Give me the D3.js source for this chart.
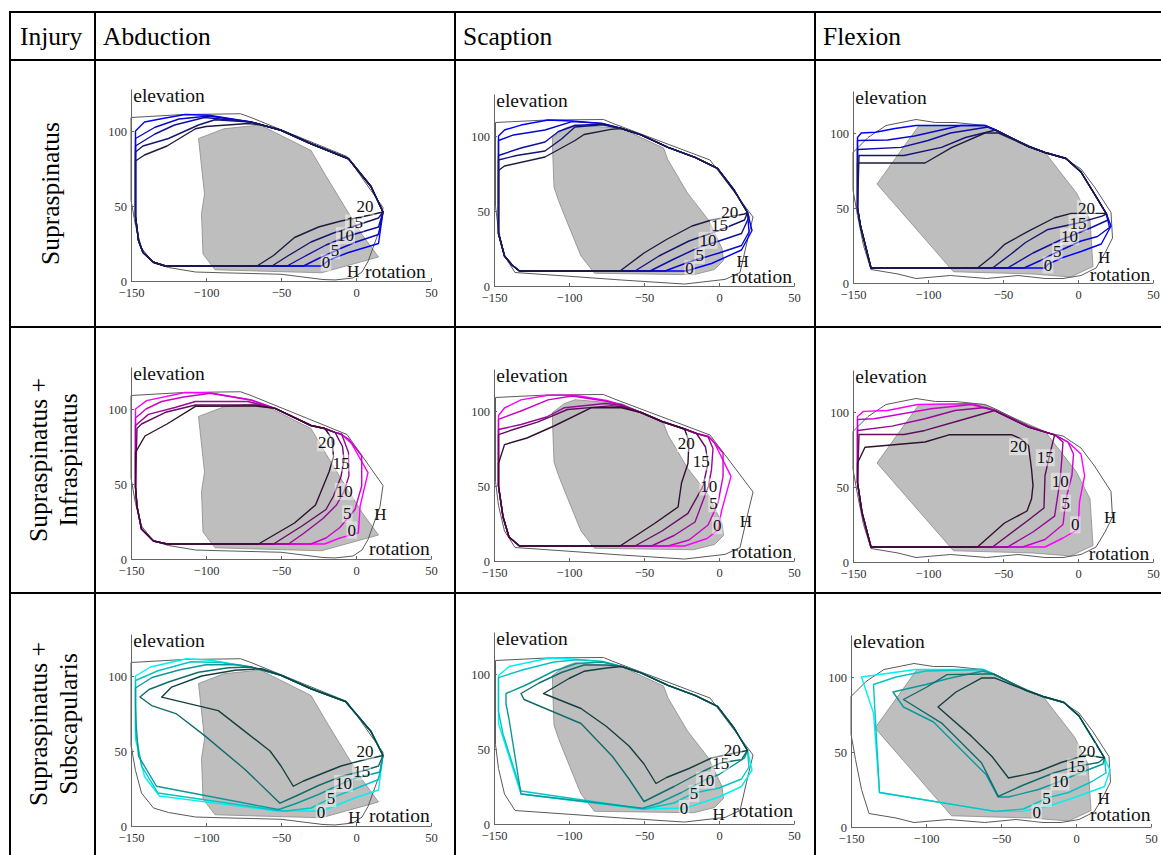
<!DOCTYPE html>
<html>
<head>
<meta charset="utf-8">
<script src="https://cdn.jsdelivr.net/npm/d3@7"></script>
<style>
  body { margin: 0; background: #fff; }
  svg { display: block; }
  svg text { font-family: "Liberation Serif", "Times New Roman", serif; }
</style>
</head>
<body>
<svg id="chart" width="1161" height="855"></svg>
<script>
// ---- table headings ----
const movements = ["Abduction", "Scaption", "Flexion"];
const injuries = [["Supraspinatus"], ["Supraspinatus +", "Infraspinatus"], ["Supraspinatus +", "Subscapularis"]];
const levels = ["0", "5", "10", "15", "20"];
const xTicks = [-150, -100, -50, 0, 50];
const yTicks = [0, 50, 100];

// ---- healthy range of motion (H) per movement ----
const healthyAbd = [[-150,109],[-115,111],[-77,111.5],[-70,109],[-6,83],[18,49],[16,35],[8,13],[4,6],[-2,2],[-14,0.7],[-22,1],[-50,4.5],[-90,5.5],[-107,6],[-125,9],[-135,12],[-143,22],[-147,37],[-150,54]];
const healthyScap = [[-149,109],[-114,110.7],[-77,111],[-71,108.5],[-6,84],[22.7,46],[20,35],[17,22],[14,9],[4,4.4],[-23,1.3],[-65,4],[-100,6.5],[-136,9],[-143,20],[-147,37],[-149,53]];
const healthyFlex = [[-150,87],[-140,97],[-128,105],[-108,109],[-95,107],[-82,107],[-62,105],[-55,102],[-33,91],[-20,86],[-10,84],[2,76],[11,64],[22,47],[23,30],[18,20],[12,10],[2,5],[-10,3],[-22,3],[-40,5],[-61,3],[-85,5],[-108,3],[-120,6],[-138,9],[-143,25],[-147,45],[-150,62]];

// ---- task region per movement ----
const taskAbd = [[-105,95],[-88,101.5],[-64,104],[-30,87],[-20,70],[-6,47],[4,31],[15,16],[-23,5.5],[-60,6.5],[-94,7.5],[-102,18],[-103,45],[-101,58]];
const taskScap = [[-111,99],[-103,105],[-96,107.5],[-65,105],[-37,92],[-34,84],[-21,62],[-7,44],[2,25],[3,17],[-3,11],[-17,7.5],[-50,8],[-83,8.5],[-92,20],[-101,42],[-107,57],[-110,66],[-111,93]];
const taskFlex = [[-134,66],[-106,105],[-63,105],[-22,87],[-15,78],[-1,60],[8,42],[10,11],[-5,4],[-30,6],[-83,7.5]];

// ---- contours (0, 5, 10, 15, 20) : Supraspinatus ----
const supraAbd = [
  [[-147,100],[-141,106],[-128,108.5],[-114,111],[-98,110.5],[-70,106],[-50,100.5],[-30,91.5],[-5,81.5],[10,63],[18,46],[15,25],[-5,19],[-18,14],[-23,10],[-127,10],[-135,12.5],[-142,19],[-145,27],[-147,43]],
  [[-147,95],[-134,102.5],[-118,108],[-98,110],[-70,106],[-50,100.5],[-30,91.5],[-5,81.5],[10,63],[18,46],[15,31],[0,26],[-12,21],[-25,15],[-35,10],[-127,10],[-135,12.5],[-142,19],[-145,27],[-147,43]],
  [[-147,90],[-143,92.5],[-134,98],[-121,104],[-101,109],[-70,106],[-50,100.5],[-30,91.5],[-5,81.5],[10,63],[18,46],[15,36],[-5,30],[-20,24],[-35,16],[-46,10],[-127,10],[-135,12.5],[-142,19],[-145,27],[-147,43]],
  [[-147,86],[-142,90],[-125,95],[-105,104],[-94,107.5],[-70,106],[-50,100.5],[-30,91.5],[-5,81.5],[10,63],[18,46],[15,42],[0,37],[-15,32],[-30,26],[-45,17],[-56,10],[-127,10],[-135,12.5],[-142,19],[-145,27],[-147,43]],
  [[-147,80],[-141,84],[-126,90],[-107,101.5],[-100,103],[-72,105],[-63,104],[-50,100.5],[-30,91.5],[-5,81.5],[10,63],[18,46],[5,43],[-10,40],[-25,36],[-41,29],[-55,17],[-66,10],[-127,10],[-135,12.5],[-142,19],[-145,27],[-147,43]]
];
const supraAbdLabels = [[-20,12.5],[-14,20.5],[-7,30.5],[-1,39],[6,50]];

const supraScap = [
  [[-147,100],[-143,104],[-132,107.3],[-114,110.7],[-98,110],[-78,108.4],[-65,105],[-52,100.7],[-34,92.4],[-16,85.8],[-1,78.4],[10,64],[19,49],[22,37],[15,24],[-5,15],[-22,10],[-133,10],[-138,14],[-143,20],[-147,35],[-147,50]],
  [[-147,97],[-137,100.7],[-116,104],[-98,109.6],[-78,108.4],[-65,105],[-52,100.7],[-34,92.4],[-16,85.8],[-1,78.4],[10,64],[19,49],[20,36],[15,27],[0,22],[-20,16],[-36,10],[-133,10],[-138,14],[-143,20],[-147,35],[-147,50]],
  [[-147,87],[-132,92],[-116,96],[-107,103],[-96,107],[-78,108],[-65,105],[-52,100.7],[-34,92.4],[-16,85.8],[-1,78.4],[10,64],[19,49],[20,46],[15,35],[0,30],[-15,25],[-30,18],[-46,10],[-133,10],[-138,14],[-143,20],[-147,35],[-147,50]],
  [[-147,84],[-135,87],[-116,90],[-105,98],[-96,106],[-78,107.5],[-65,105],[-52,100.7],[-34,92.4],[-16,85.8],[-1,78.4],[10,64],[19,49],[17,44],[0,37],[-20,30],[-40,20],[-56,10],[-133,10],[-138,14],[-143,20],[-147,35],[-147,50]],
  [[-147,77],[-143,80],[-116,86],[-96,97],[-90,101],[-72,104.4],[-65,105],[-52,100.7],[-34,92.4],[-16,85.8],[-1,78.4],[10,64],[19,49],[17,48],[-5,44],[-18,40],[-35,31],[-50,22],[-66,10],[-133,10],[-138,14],[-143,20],[-147,35],[-147,50]]
];
const supraScapLabels = [[-19.6,11.8],[-12.9,20.7],[-7.3,30.7],[0.4,40.7],[7.1,49.6]];

const supraFlex = [
  [[-147,97],[-144.5,100],[-135,100.5],[-122,103],[-108,105],[-62,105],[-55,102],[-33,91],[-22,87],[-8,83],[2,74],[13,56],[19,46],[22,38],[15.5,26],[2,21],[-10,17],[-20,12.5],[-22,10],[-138,10],[-141,22],[-145,38],[-147,50]],
  [[-147,95],[-127,95.3],[-109,98],[-78,105],[-62,105],[-55,102],[-33,91],[-22,87],[-8,83],[2,74],[13,56],[19,46],[21,37],[13,31],[2,28],[-15.5,20],[-25,15],[-36,10],[-138,10],[-141,22],[-145,38],[-147,50]],
  [[-147,89],[-118,90.4],[-100,95],[-85,100],[-60,104],[-55,102],[-33,91],[-22,87],[-8,83],[2,74],[13,56],[19,46],[20,42],[9,37],[-5.5,31],[-11,29],[-30,20],[-47,10],[-138,10],[-141,22],[-145,38],[-147,50]],
  [[-146,85],[-116,85],[-91,90.4],[-75,97],[-55,102],[-33,91],[-22,87],[-8,83],[2,74],[13,56],[19,46],[16,44.6],[0,40],[-20,35.7],[-35,27],[-45,19],[-57,10],[-138,10],[-141,22],[-145,38],[-147,50]],
  [[-147,80],[-102,80],[-84,90.4],[-62,100],[-53,100],[-33,91],[-22,87],[-8,83],[2,74],[13,56],[19,46],[18,46.4],[-4.4,46.4],[-15.6,43.5],[-33,34.6],[-49,25.7],[-57,18],[-67,10],[-138,10],[-141,22],[-145,38],[-147,50]]
];
const supraFlexLabels = [[-20,12.3],[-13.8,21.2],[-5.6,31.2],[0,40.2],[5.6,50.2]];

// ---- contours : Supraspinatus + Infraspinatus ----
const infraAbd = [
  [[-147,100],[-139.6,105.6],[-114,111],[-97,110.7],[-70,106],[-54,100.4],[-30,89],[-21,87],[-14,84.4],[-9.6,83],[-3,77],[8,57.6],[2.7,35],[1.6,17.4],[-10.7,14],[-21,10],[-126,10],[-135,12],[-143,20],[-146,35],[-147,48]],
  [[-147,94],[-140,100],[-129.6,105],[-115,108],[-97,110.5],[-70,106],[-54,100.4],[-30,89],[-21,87],[-14,84.4],[-9.6,83],[-5,80],[3.8,68.8],[3.8,48.7],[-0.7,33],[-10.7,21],[-20,14],[-30,10],[-126,10],[-135,12],[-143,20],[-146,35],[-147,48]],
  [[-147,89],[-138.4,96.4],[-120.7,101],[-107,105],[-72,105],[-54,100.4],[-30,89],[-21,87],[-14,84.4],[-9.6,83.3],[-5,71],[-4.7,55.4],[-8,45],[-13,36],[-22,27],[-35,17],[-45,10],[-126,10],[-135,12],[-143,20],[-146,35],[-147,48]],
  [[-146,87],[-143,90],[-127,97.8],[-107,102.7],[-67,102.7],[-54,100.4],[-30,89],[-21,87],[-14,84.4],[-9,75],[-8,66],[-10,55],[-15,42],[-20,33],[-36,22],[-55,10],[-126,10],[-135,12],[-143,20],[-146,35],[-147,48]],
  [[-147,71],[-140.7,82],[-126,90],[-107,101.8],[-67,102],[-54,100.4],[-30,89],[-20.7,87],[-16,80],[-15,68],[-18,58],[-27,36],[-41,24],[-65,10],[-126,10],[-135,12],[-143,20],[-146,35],[-147,48]]
];
const infraAbdLabels = [[-2.9,19.6],[-5.8,30.4],[-7.8,45.3],[-10,64.3],[-19.6,77.7]];

const infraScap = [
  [[-147,97],[-143,102],[-132,107.4],[-114,110.5],[-96,110.5],[-75,107],[-65,104],[-52,99],[-38,93],[-23,88],[-15,85],[-7,83],[-3,78.7],[8,56.4],[1.6,33],[-0.7,20.6],[-8,15],[-23,10],[-133,10],[-140,16],[-144,29.5],[-147,50]],
  [[-147,94.4],[-132,100],[-114,107.4],[-98,110],[-75,106.5],[-65,104],[-52,99],[-38,93],[-23,88],[-15,85],[-7,83],[-5,81],[2.7,72],[2.7,56.4],[-0.7,38.5],[-7.3,24],[-20,14],[-34,10],[-133,10],[-140,16],[-144,29.5],[-147,50]],
  [[-147,87.7],[-132,91],[-115,96],[-103,102.2],[-76,105],[-65,104],[-52,99],[-38,93],[-23,88],[-15,85],[-7.3,82.8],[-4,75],[-5,61],[-7,50],[-16,26],[-30,17],[-45,10],[-133,10],[-140,16],[-144,29.5],[-147,50]],
  [[-147,84.3],[-136,88],[-121,92.6],[-101,101],[-72,103.4],[-65,103],[-52,99],[-38,93],[-23,88],[-15,85],[-9,76],[-7.3,65.3],[-10.7,49.7],[-20.7,31.8],[-38,20],[-56,10],[-133,10],[-140,16],[-144,29.5],[-147,50]],
  [[-147,65],[-143,77.6],[-128,82],[-110,90],[-85,102.2],[-65,102.2],[-52,99],[-38,93],[-23,88],[-20,80],[-20.7,65],[-25,52],[-27.3,36],[-43,25],[-66,10],[-133,10],[-140,16],[-144,29.5],[-147,50]]
];
const infraScapLabels = [[-1.1,23.9],[-3.6,38.5],[-6.9,49.7],[-11.8,66.4],[-21.8,78.7]];

const infraFlex = [
  [[-147,97],[-143,100.4],[-127,101],[-107,105],[-71,105.6],[-55.6,101],[-33,90],[-15.6,84.8],[-6.7,80],[2,72],[4.4,57.5],[1,40],[0,21.7],[-10,16],[-22,10],[-138,10],[-144,33],[-147,53]],
  [[-147,95],[-136,95.5],[-116,99],[-98,102.2],[-71,105],[-55.6,101],[-33,90],[-15.6,84.8],[-6.7,80],[-3,72],[-4,58],[-8,42],[-10,25],[-22,15],[-37,10],[-138,10],[-144,33],[-147,53]],
  [[-147,87.7],[-124,90.6],[-102,95.5],[-82,101],[-62,103],[-55.6,101],[-33,90],[-15.6,84.8],[-10,80],[-11,66],[-12,54],[-15.6,30.6],[-30,20],[-47,10],[-138,10],[-144,33],[-147,53]],
  [[-146,85],[-116,85],[-102,87.7],[-80,94],[-55.6,101],[-33,90],[-15.6,84.8],[-19,71],[-22,57.5],[-22.7,36],[-33,28],[-57,10],[-138,10],[-144,33],[-147,53]],
  [[-147,66],[-142,76.5],[-136,77],[-102,80],[-86,84.8],[-44,84.8],[-38,82],[-33,77.6],[-31,62],[-30,51],[-31,42],[-34,34],[-49,26],[-67,10],[-138,10],[-144,33],[-147,53]]
];
const infraFlexLabels = [[-1.8,25.1],[-8.2,39.6],[-11.8,54.1],[-21.8,69.8],[-39.6,77.2]];

// ---- contours : Supraspinatus + Subscapularis ----
const subAbd = [
  [[-147,100],[-137,106],[-113,111.5],[-97,110.5],[-70,106],[-50,100.5],[-30,91.5],[-7,83],[10,63],[18,47],[15,24],[0,19],[-15,13],[-23,10],[-53,10],[-131,20],[-141,33],[-147,58]],
  [[-147,97],[-132,103.5],[-110,109.5],[-90,109],[-70,106],[-50,100.5],[-30,91.5],[-7,83],[10,63],[18,47],[15,31],[0,25],[-16.7,18.6],[-30,12],[-47,10],[-53,10.5],[-132,22],[-143,40],[-147,63]],
  [[-147,92],[-136,99],[-118,104],[-100,107.5],[-80,107.5],[-70,106],[-50,100.5],[-30,91.5],[-7,83],[10,63],[18,47],[16,36],[0,32],[-8.4,28.7],[-25,21],[-40,15],[-50,11.5],[-52,11],[-133,26.5],[-145,46.6],[-146.5,67],[-147,80]],
  [[-144,86],[-138,91],[-125,96],[-105,102.5],[-85,105.5],[-70,106],[-50,100.5],[-30,91.5],[-7,83],[10,63],[18,47],[15,40],[3.8,36.5],[-10,33],[-25,27],[-40,20],[-50.7,15.2],[-74,37.7],[-100.7,60.1],[-119.6,74.7],[-136.2,80.3]],
  [[-129.6,85.9],[-122.9,92.6],[-102.9,100],[-80.7,103.8],[-63,104.9],[-50,100.5],[-30,91.5],[-7,83],[10,63],[18,47],[5,44],[-10,40],[-25,34],[-35,30],[-41.8,26.5],[-50,40],[-57.3,50],[-76,64.6],[-91.8,76.9]]
];
const subAbdLabels = [[-23.3,9],[-16.7,18.6],[-8.4,28.7],[3.8,36.5],[6,50]];

const subScap = [
  [[-147,99],[-140,105],[-113,110.7],[-98,110],[-78,108.4],[-65,105],[-52,100.7],[-34,92.4],[-16,85.8],[-1,78.4],[10,64],[19,49],[22,36],[15,25],[0,18],[-22,10.7],[-52,10],[-132,20],[-147,67]],
  [[-147,97.6],[-130,103],[-110,108],[-95,109.5],[-78,108.4],[-65,105],[-52,100.7],[-34,92.4],[-16,85.8],[-1,78.4],[10,64],[19,49],[20,38],[15,30],[0,24],[-16.7,20.7],[-30,14],[-50,10],[-132,22],[-144,60],[-147,75]],
  [[-142,87],[-128,93],[-110,102],[-95,107],[-78,108],[-65,105],[-52,100.7],[-34,92.4],[-16,85.8],[-1,78.4],[10,64],[19,49],[17,44],[0,33],[-8.9,29.6],[-25,21],[-40,14],[-51,10.5],[-132,20],[-140,70],[-142,80]],
  [[-132,87],[-120,94],[-105,101],[-90,106],[-75,106],[-65,105],[-52,100.7],[-34,92.4],[-16,85.8],[-1,78.4],[10,64],[19,49],[15,43],[1.1,40.7],[-15,33],[-30,25],[-50,15],[-60,30],[-71,45],[-92,67],[-130,83]],
  [[-117,87],[-100,97],[-90,101.8],[-75,104],[-65,105],[-52,100.7],[-34,92.4],[-16,85.8],[-1,78.4],[10,64],[19,49],[8.9,47],[-5,44],[-20,37],[-35,31],[-42,27],[-50,40],[-60,52],[-75,65],[-92,77]]
];
const subScapLabels = [[-23.3,10.7],[-16.7,20.7],[-8.9,29.6],[1.1,40.7],[8.9,49.1]];

const subFlex = [
  [[-143,100],[-107,105],[-62,105],[-55,102],[-33,91],[-22,87],[-8,83],[2,74],[13,56],[19,46],[22.7,38],[19,27],[0,20],[-18,14],[-36,10.4],[-54,10.4],[-131,23],[-135,76]],
  [[-135,95],[-120,100],[-100,104],[-62,105],[-55,102],[-33,91],[-22,87],[-8,83],[2,74],[13,56],[19,46],[20,36],[10,30],[-5,23],[-19.6,19.3],[-35,12],[-54,10.4],[-131,23]],
  [[-122,90],[-100,95],[-85,99],[-62,104],[-55,102],[-33,91],[-22,87],[-8,83],[2,74],[13,56],[19,46],[18,42],[0,35],[-10.7,30.4],[-25,25],[-45,20],[-52,20],[-60,35],[-75,50],[-95,70],[-115,80]],
  [[-115,85],[-100,93],[-86,101.6],[-60,102],[-55,102],[-33,91],[-22,87],[-8,83],[2,74],[13,56],[19,46],[15,43],[0.4,40.4],[-15,36],[-35,28],[-51.8,20.4],[-62.9,42.7],[-89.6,69.3]],
  [[-92,80],[-80,90],[-63,99.3],[-54,99.3],[-33,91],[-22,87],[-8,83],[2,74],[13,56],[19,46],[7.1,48],[-10,43],[-25,37],[-34,34.9],[-45,32.7],[-56,47],[-69.6,60.4]]
];
const subFlexLabels = [[-26.2,9.8],[-19.6,19.3],[-10.7,30.4],[0.4,40.4],[7.1,50.4]];

// ---- assemble panels ----
const healthy = [healthyAbd, healthyScap, healthyFlex];
const tasks = [taskAbd, taskScap, taskFlex];
const contourSets = [[supraAbd, supraScap, supraFlex], [infraAbd, infraScap, infraFlex], [subAbd, subScap, subFlex]];
const labelSets = [[supraAbdLabels, supraScapLabels, supraFlexLabels], [infraAbdLabels, infraScapLabels, infraFlexLabels], [subAbdLabels, subScapLabels, subFlexLabels]];

// colour ramps: level 0 is the bright hue, level 20 the darkest
const rampEnds = [["#0000ff", "#1c1c40"], ["#ff00ff", "#32102e"], ["#00f0f0", "#15403f"]];

// layout
const colEdges = [10, 95, 455, 815];
const rowEdges = [12, 60, 327, 593];
const plotOrigin = [
  [[131, 281], [494, 286], [853, 283]],
  [[131, 559], [494, 561], [853, 562]],
  [[131, 826], [494, 824], [851, 827]]
];
// position of the "H" and "rotation" captions in data units, per panel
const hNote = [[[-6, 2.7], [11.6, 12.5], [13.3, 13.5]], [[12.2, 26.3], [13.8, 22.8], [17.3, 26.2]], [[-5.1, 1.8], [-4.4, 2.9], [14.4, 15.5]]];
const rotNote = [[[6, 2.2], [8.2, 1.8], [7.8, 1.1]], [[8.7, 2.5], [8.2, 2.2], [7.1, 1.6]], [[8.7, 2.9], [8.9, 4.7], [9.3, 4.2]]];

const svg = d3.select("#chart");

// ---- table frame and headings ----
const frame = svg.append("g").attr("stroke", "#000").attr("stroke-width", 2);
colEdges.forEach(x => frame.append("line").attr("x1", x).attr("x2", x).attr("y1", 11).attr("y2", 860));
rowEdges.forEach(y => frame.append("line").attr("x1", 9).attr("x2", 1170).attr("y1", y).attr("y2", y));

svg.append("text").attr("x", 20).attr("y", 45).attr("font-size", 25.5).text("Injury");
movements.forEach((m, i) => {
  svg.append("text").attr("x", colEdges[i + 1] + 8).attr("y", 45)
    .attr("font-size", 25.5).text(m);
});
injuries.forEach((lines, r) => {
  const cy = (rowEdges[r + 1] + (r === 2 ? 855 : rowEdges[r + 2])) / 2;
  const baseX = lines.length === 1 ? [59] : [47, 77];
  lines.forEach((t, k) => {
    svg.append("text")
      .attr("transform", `translate(${baseX[k]},${cy}) rotate(-90)`)
      .attr("text-anchor", "middle")
      .attr("font-size", 25.5)
      .text(t);
  });
});

// ---- panels ----
const x = d3.scaleLinear().domain([-150, 50]).range([0, 300]);
const y = d3.scaleLinear().domain([0, 128]).range([0, -192]);
const closed = d3.line().x(d => x(d[0])).y(d => y(d[1])).curve(d3.curveLinearClosed);

for (let r = 0; r < 3; r++) {
  const ramp = d3.interpolateRgb(rampEnds[r][0], rampEnds[r][1]);
  for (let c = 0; c < 3; c++) {
    const [ox, oy] = plotOrigin[r][c];
    const g = svg.append("g").attr("transform", `translate(${ox},${oy})`);

    g.append("path").attr("d", closed(tasks[c]))
      .attr("fill", "#bebebe").attr("stroke", "#8a8a8a").attr("stroke-width", 0.8);

    g.append("path").attr("d", closed(healthy[c]))
      .attr("fill", "none").attr("stroke", "#5a5a5a").attr("stroke-width", 1);

    const contours = contourSets[r][c];
    contours.forEach((poly, i) => {
      g.append("path").attr("d", closed(poly))
        .attr("fill", "none").attr("stroke", ramp(i / 4))
        .attr("stroke-width", 1.4).attr("stroke-linejoin", "round");
    });

    // contour labels with a faint backing box
    labelSets[r][c].forEach((p, i) => {
      const t = g.append("text")
        .attr("x", x(p[0])).attr("y", y(p[1]))
        .attr("text-anchor", "middle").attr("dy", "0.35em")
        .attr("font-size", 17).attr("fill", "#111")
        .text(levels[i]);
      const b = t.node().getBBox();
      g.insert("rect", () => t.node())
        .attr("x", b.x - 1).attr("y", b.y + 1).attr("width", b.width + 2).attr("height", b.height - 2)
        .attr("fill", "#fff").attr("fill-opacity", 0.45);
    });

    // axes
    const ax = g.append("g").call(d3.axisBottom(x).tickValues(xTicks).tickSizeInner(-3).tickSizeOuter(0).tickPadding(7));
    const ay = g.append("g").call(d3.axisLeft(y).tickValues(yTicks).tickSizeInner(-3).tickSizeOuter(0).tickPadding(4));
    [ax, ay].forEach(a => {
      a.attr("font-family", null).attr("font-size", 12.5);
      a.selectAll("path,line").attr("stroke", "#666");
      a.selectAll("text").attr("fill", "#333");
    });

    g.append("text").attr("x", x(-148.5)).attr("y", y(119.5))
      .attr("font-size", 19.5).attr("fill", "#111").text("elevation");
    g.append("text").attr("x", x(rotNote[r][c][0])).attr("y", y(rotNote[r][c][1]))
      .attr("font-size", 19.5).attr("fill", "#111").text("rotation");
    g.append("text").attr("x", x(hNote[r][c][0])).attr("y", y(hNote[r][c][1]))
      .attr("font-size", 17).attr("fill", "#111").text("H");
  }
}
</script>
</body>
</html>
